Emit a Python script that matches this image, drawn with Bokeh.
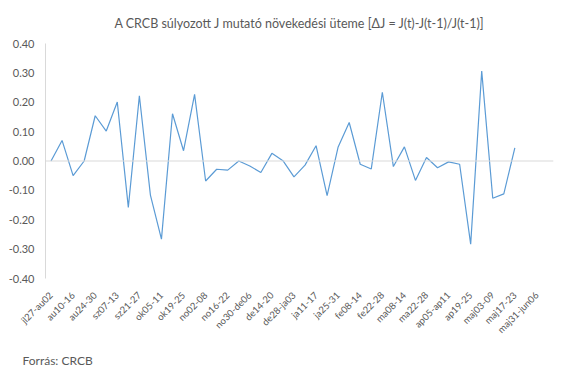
import numpy as np
from bokeh.plotting import figure
from bokeh.models import FixedTicker, Span, Title, CustomJSTickFormatter
from bokeh.embed import file_html
from bokeh.resources import INLINE

weeks = ["jl27-au02", "au03-09", "au10-16", "au17-23", "au24-30", "au31-sz06", "sz07-13", "sz14-20",
         "sz21-27", "sz28-ok04", "ok05-11", "ok12-18", "ok19-25", "ok26-no01", "no02-08", "no09-15",
         "no16-22", "no23-29", "no30-de06", "de07-13", "de14-20", "de21-27", "de28-ja03", "ja04-10",
         "ja11-17", "ja18-24", "ja25-31", "fe01-07", "fe08-14", "fe15-21", "fe22-28", "ma01-07",
         "ma08-14", "ma15-21", "ma22-28", "ma29-ap04", "ap05-ap11", "ap12-18", "ap19-25", "ap26-maj02",
         "maj03-09", "maj10-16", "maj17-23", "maj24-30", "maj31-jun06", "jun07-13"]

growth = [0.000, 0.070, -0.050, 0.000, 0.154, 0.102, 0.201, -0.158, 0.222, -0.116,
          -0.266, 0.161, 0.035, 0.227, -0.068, -0.028, -0.031, 0.000, -0.017, -0.039,
          0.026, 0.001, -0.054, -0.014, 0.052, -0.118, 0.048, 0.131, -0.011, -0.027,
          0.234, -0.019, 0.048, -0.066, 0.012, -0.023, -0.003, -0.011, -0.283, 0.306,
          -0.127, -0.112, 0.045, None, None, None]

y_ticks = [-0.4, -0.3, -0.2, -0.1, 0.0, 0.1, 0.2, 0.3, 0.4]

title_text = "A CRCB súlyozott J mutató növekedési üteme [ΔJ = J(t)-J(t-1)/J(t-1)]"
source_text = "Forrás: CRCB"

FONT = "Lato"
GREY = "#595959"

x = list(range(len(weeks)))
y = [np.nan if v is None else v for v in growth]

p = figure(frame_width=508, frame_height=235, output_backend="svg", toolbar_location=None,
           x_range=(-0.5, len(weeks) - 0.5), y_range=(-0.4, 0.4),
           min_border_left=45, min_border_right=12, min_border_top=43, min_border_bottom=93)
p.outline_line_color = None
p.xgrid.grid_line_color = None
p.ygrid.grid_line_color = None

p.line(x, y, line_color="#5B9BD5", line_width=1.2)

p.add_layout(Span(location=0, dimension="width", line_color="#d9d9d9", line_width=1))

# y axis
p.yaxis.ticker = FixedTicker(ticks=y_ticks)
p.yaxis.formatter = CustomJSTickFormatter(code="return tick.toFixed(2);")
p.yaxis.axis_line_color = "#d9d9d9"
p.yaxis.major_tick_line_color = None
p.yaxis.minor_tick_line_color = None
p.yaxis.major_tick_out = 0
p.yaxis.minor_tick_out = 0
p.yaxis.major_label_text_font = FONT
p.yaxis.major_label_text_font_size = "11px"
p.yaxis.major_label_text_color = GREY
p.yaxis.major_label_standoff = 11

# x axis
p.xaxis.ticker = FixedTicker(ticks=x[::2])
p.xaxis.major_label_overrides = {i: weeks[i] for i in x}
p.xaxis.major_label_orientation = np.pi / 4
p.xaxis.axis_line_color = None
p.xaxis.major_tick_line_color = None
p.xaxis.minor_tick_line_color = None
p.xaxis.major_tick_out = 0
p.xaxis.minor_tick_out = 0
p.xaxis.major_label_text_font = FONT
p.xaxis.major_label_text_font_size = "9.5px"
p.xaxis.major_label_text_color = GREY
p.xaxis.major_label_standoff = 15

p.title = Title(text=title_text, align="center", text_font=FONT, text_font_size="12.5px",
                text_font_style="normal", text_color=GREY, standoff=26, offset=-20)
p.add_layout(Title(text=source_text, align="left", text_font=FONT, text_font_size="12px",
                   text_font_style="normal", text_color=GREY, offset=-23, standoff=19), "below")

open("out.html", "w").write(file_html(p, INLINE))
